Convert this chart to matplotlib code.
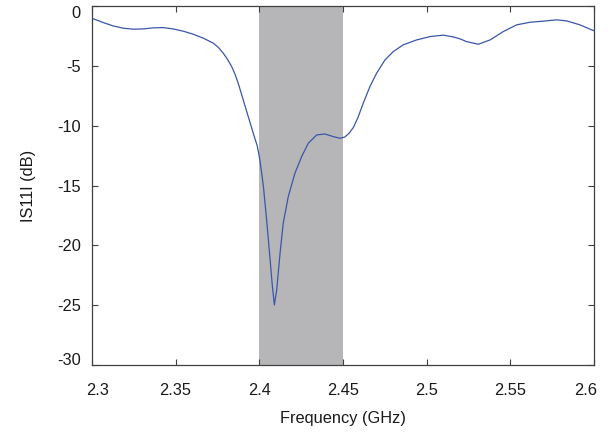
import matplotlib
matplotlib.use("Agg")
import matplotlib.pyplot as plt
import matplotlib.transforms as mtransforms

freq = [2.2998, 2.3068, 2.3127, 2.3187, 2.3247, 2.3307, 2.3366, 2.3426, 2.3486,
        2.3546, 2.3605, 2.3665, 2.3725, 2.3755, 2.3785, 2.3810, 2.3835, 2.3855,
        2.3874, 2.3904, 2.3934, 2.3964, 2.3988, 2.4004, 2.4024, 2.4044, 2.4064,
        2.4078, 2.4090, 2.4104, 2.4124, 2.4143, 2.4173, 2.4213, 2.4253, 2.4293,
        2.4343, 2.4392, 2.4442, 2.4482, 2.4510, 2.4535, 2.4562, 2.4590, 2.4621,
        2.4661, 2.4701, 2.4751, 2.4801, 2.4860, 2.4940, 2.5020, 2.5099, 2.5159,
        2.5199, 2.5239, 2.5309, 2.5379, 2.5458, 2.5538, 2.5618, 2.5697, 2.5777,
        2.5837, 2.5916, 2.5986, 2.6000]
s11 = [-1.01, -1.38, -1.66, -1.85, -1.93, -1.91, -1.82, -1.80, -1.91,
       -2.10, -2.35, -2.68, -3.10, -3.45, -3.94, -4.45, -5.06, -5.70,
       -6.45, -7.84, -9.24, -10.63, -11.70, -12.90, -15.00, -17.90, -21.10,
       -23.40, -24.98, -23.73, -20.66, -18.15, -15.93, -13.97, -12.58, -11.46,
       -10.77, -10.69, -10.91, -11.05, -10.95, -10.65, -10.15, -9.30, -8.12,
       -6.73, -5.61, -4.50, -3.80, -3.24, -2.83, -2.55, -2.43, -2.58,
       -2.74, -2.97, -3.19, -2.83, -2.13, -1.57, -1.35, -1.26, -1.15,
       -1.24, -1.57, -1.99, -2.05]

band = (2.40, 2.45)
xticks = [2.3, 2.35, 2.4, 2.45, 2.5, 2.55, 2.6]
xticklabels = ["2.3", "2.35", "2.4", "2.45", "2.5", "2.55", "2.6"]
yticks = [0, -5, -10, -15, -20, -25, -30]
yticklabels = ["0", "-5", "-10", "-15", "-20", "-25", "-30"]

plt.rcParams['font.family'] = ['Liberation Sans', 'DejaVu Sans']
fig = plt.figure(figsize=(6.13, 4.34), dpi=100)
ax = fig.add_axes([0.150, 0.159, 0.819, 0.827])

ax.axvspan(band[0], band[1], color='#b6b6b8', lw=0, zorder=0)
ax.plot(freq, s11, color='#3a56a8', lw=0.9, zorder=2)

ax.set_xlim(2.3, 2.6)
ax.set_ylim(-30, 0)
ax.set_xticks(xticks)
ax.set_xticklabels(xticklabels)
ax.set_yticks(yticks)
ax.set_yticklabels(yticklabels)
ax.tick_params(direction='in', length=4, width=0.8, color='#404040',
               labelsize=11.8, labelcolor='#1a1a1a', top=True, right=True)
ax.tick_params(axis='x', pad=13)
ax.tick_params(axis='y', pad=8)
for s in ax.spines.values():
    s.set_color('#404040')
    s.set_linewidth(0.9)

# edge tick labels kept inside the axes extent, as in the reference
def shift(lbl, dx_px, dy_px):
    lbl.set_transform(lbl.get_transform() +
                      mtransforms.ScaledTranslation(dx_px / 100, dy_px / 100, fig.dpi_scale_trans))

xl = ax.get_xticklabels()
shift(xl[0], 5.5, 0)
shift(xl[-1], -8, 0)
yl = ax.get_yticklabels()
shift(yl[0], 0, -6)
shift(yl[-1], 0, 6)

ax.set_xlabel('Frequency (GHz)', fontsize=11.8, color='#1a1a1a', labelpad=9)
ax.set_ylabel('IS11I (dB)', fontsize=11.8, color='#1a1a1a', labelpad=15)

fig.savefig('out.png', dpi=100)
